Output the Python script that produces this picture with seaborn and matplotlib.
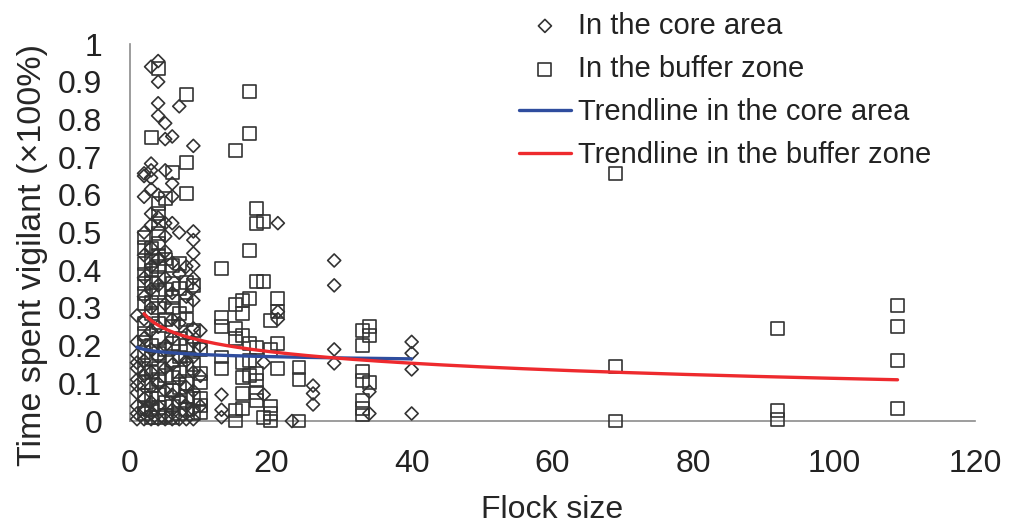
import numpy as np
import pandas as pd
import seaborn as sns
import matplotlib
matplotlib.use("Agg")
import matplotlib.pyplot as plt

# flock size -> proportion of time spent vigilant, one list of birds per flock size
core_sizes = [1, 2, 3, 4, 5, 6, 7, 8, 9, 10, 13, 19, 21, 23, 26, 29, 34, 40]
core_vigil = [
    [0.28, 0.21, 0.175, 0.14, 0.11, 0.075, 0.04, 0.005, 0.02, 0.095, 0.155],
    [0.657, 0.65, 0.595, 0.50, 0.44, 0.38, 0.33, 0.27, 0.22, 0.16, 0.12, 0.06, 0.03, 0.005],
    [0.94, 0.683, 0.665, 0.645, 0.615, 0.55, 0.52, 0.46, 0.41, 0.35, 0.30, 0.24, 0.19,
     0.13, 0.09, 0.05, 0.02, 0.005],
    [0.955, 0.90, 0.843, 0.81, 0.60, 0.54, 0.43, 0.36, 0.25, 0.17, 0.10, 0.04, 0.005],
    [0.79, 0.748, 0.665, 0.525, 0.49, 0.45, 0.38, 0.31, 0.20, 0.14, 0.08, 0.005],
    [0.755, 0.63, 0.596, 0.525, 0.42, 0.34, 0.27, 0.22, 0.15, 0.07, 0.03, 0.005],
    [0.835, 0.50, 0.39, 0.26, 0.17, 0.11, 0.06, 0.005],
    [0.41, 0.33, 0.23, 0.16, 0.09, 0.04, 0.005],
    [0.73, 0.503, 0.48, 0.445, 0.413, 0.378, 0.352, 0.32, 0.246, 0.21, 0.17, 0.13,
     0.08, 0.03, 0.005],
    [0.24, 0.20, 0.12, 0.04],
    [0.07, 0.03, 0.01],
    [0.155, 0.07],
    [0.525, 0.29, 0.27],
    [0.0],
    [0.094, 0.073, 0.044],
    [0.426, 0.36, 0.19, 0.153],
    [0.078, 0.02],
    [0.21, 0.18, 0.137, 0.02],
]

buffer_sizes = [2, 3, 4, 5, 6, 7, 8, 9, 10, 13, 15, 16, 17, 18, 19, 20, 21, 24, 33, 34,
                69, 92, 109]
buffer_vigil = [
    [0.487, 0.46, 0.418, 0.39, 0.365, 0.338, 0.312, 0.259, 0.232, 0.208, 0.182, 0.139,
     0.102, 0.068, 0.036, 0.02],
    [0.753, 0.458, 0.426, 0.40, 0.368, 0.315, 0.285, 0.20, 0.165, 0.13, 0.095, 0.06,
     0.03, 0.01],
    [0.935, 0.578, 0.551, 0.525, 0.498, 0.47, 0.44, 0.41, 0.38, 0.34, 0.30, 0.26, 0.22,
     0.18, 0.14, 0.11, 0.07, 0.035, 0.01],
    [0.59, 0.43, 0.35, 0.27, 0.19, 0.12, 0.05, 0.015],
    [0.66, 0.413, 0.365, 0.328, 0.30, 0.25, 0.205, 0.16, 0.115, 0.08, 0.04, 0.01],
    [0.418, 0.352, 0.285, 0.22, 0.17, 0.13, 0.09, 0.05, 0.02],
    [0.867, 0.687, 0.603, 0.368, 0.307, 0.27, 0.20, 0.14, 0.10, 0.065, 0.03],
    [0.36, 0.24, 0.19, 0.15, 0.06, 0.02],
    [0.19, 0.126, 0.102, 0.06, 0.041, 0.023],
    [0.405, 0.275, 0.25, 0.17, 0.14],
    [0.718, 0.31, 0.246, 0.22, 0.028, 0.0],
    [0.32, 0.285, 0.227, 0.155, 0.115, 0.073, 0.033],
    [0.875, 0.763, 0.452, 0.325, 0.205, 0.16, 0.12],
    [0.564, 0.525, 0.37, 0.195, 0.125, 0.107, 0.076, 0.055],
    [0.53, 0.37, 0.01],
    [0.267, 0.19, 0.04, 0.02, 0.0],
    [0.325, 0.29, 0.205, 0.14],
    [0.142, 0.11, 0.0],
    [0.24, 0.20, 0.131, 0.107, 0.055, 0.034, 0.016],
    [0.25, 0.227, 0.102],
    [0.657, 0.145, 0.0],
    [0.246, 0.028, 0.004],
    [0.307, 0.251, 0.161, 0.033],
]

# logarithmic trendlines y = a + b*ln(x), as printed on the chart
core_trend = (0.196, -0.0084)
buffer_trend = (0.315, -0.0438)


def to_frame(sizes, vigil):
    rows = [(s, v) for s, vals in zip(sizes, vigil) for v in vals]
    return pd.DataFrame(rows, columns=["size", "vigilant"])


core = to_frame(core_sizes, core_vigil)
buffer = to_frame(buffer_sizes, buffer_vigil)

sns.set_style("white")
plt.rcParams["font.family"] = ["Liberation Sans", "DejaVu Sans"]
plt.rcParams["text.color"] = "#222222"

fig = plt.figure(figsize=(10.17, 5.25), dpi=100)
ax = fig.add_axes([0.1278, 0.198, 0.8309, 0.718])

edge = "#333333"
sns.scatterplot(data=core, x="size", y="vigilant", marker="D", s=44, facecolor="none",
                edgecolor=edge, linewidth=1.2, ax=ax, clip_on=False, zorder=3,
                label="In the core area")
sns.scatterplot(data=buffer, x="size", y="vigilant", marker="s", s=86, facecolor="none",
                edgecolor=edge, linewidth=1.2, ax=ax, clip_on=False, zorder=3,
                label="In the buffer zone")

xs = np.linspace(core["size"].min(), core["size"].max(), 200)
ax.plot(xs, core_trend[0] + core_trend[1] * np.log(xs), color="#2f4d9e", lw=2.4,
        zorder=4, label="Trendline in the core area")
xs = np.linspace(buffer["size"].min(), buffer["size"].max(), 200)
ax.plot(xs, buffer_trend[0] + buffer_trend[1] * np.log(xs), color="#ee2a2e", lw=2.4,
        zorder=4, label="Trendline in the buffer zone")

ax.set_xlim(0, 120)
ax.set_ylim(0, 1)
ax.set_xticks(np.arange(0, 121, 20))
ax.set_yticks(np.arange(0, 1.01, 0.1))
ax.set_yticklabels(["0", "0.1", "0.2", "0.3", "0.4", "0.5", "0.6", "0.7", "0.8", "0.9", "1"])

for side in ["top", "right"]:
    ax.spines[side].set_visible(False)
for side in ["left", "bottom"]:
    ax.spines[side].set_color("#8c8c8c")
    ax.spines[side].set_linewidth(1.2)
ax.tick_params(axis="both", direction="in", length=6.5, width=1.1, color="#8c8c8c",
               labelsize=23, labelcolor="#222222")
ax.tick_params(axis="x", pad=20)
ax.tick_params(axis="y", pad=20)

ax.set_xlabel("Flock size", fontsize=23, labelpad=12)
ax.set_ylabel("Time spent vigilant (\u00d7100%)", fontsize=24.5)
ax.yaxis.set_label_coords(-0.097, 0.44)

ax.legend(loc="upper left", bbox_to_anchor=(0.51, 0.978), bbox_transform=fig.transFigure,
          frameon=False, fontsize=21, handlelength=1.8, handletextpad=0.25,
          labelspacing=0.52, borderpad=0, borderaxespad=0)

fig.savefig("out.png", dpi=100)
